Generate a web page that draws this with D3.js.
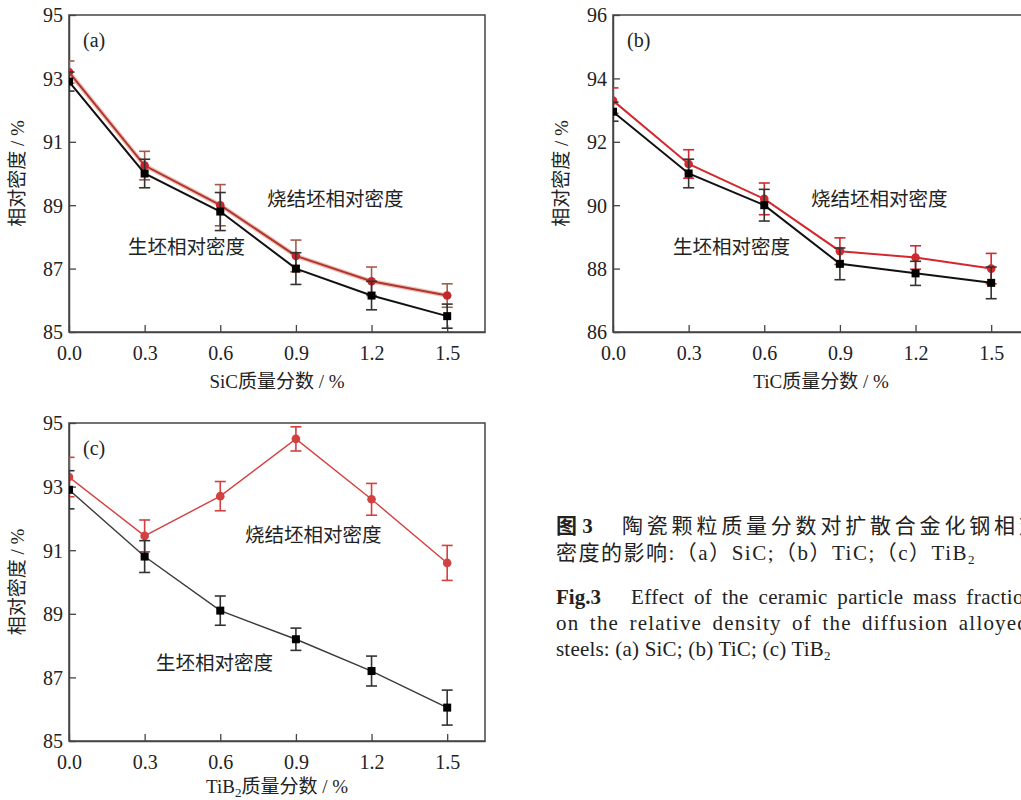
<!DOCTYPE html>
<html>
<head>
<meta charset="utf-8">
<script src="https://cdn.jsdelivr.net/npm/d3@7"></script>
<style>
  html, body { margin: 0; padding: 0; background: #fff; overflow: hidden; }
  svg { display: block; }
  text { font-family: "Liberation Serif", "Noto Sans CJK SC", serif; fill: #222; }
  .cjk { font-family: "Liberation Serif", "Noto Sans CJK SC", sans-serif; }
</style>
</head>
<body>
<div class="chart"></div>
<script>
// mass fraction of ceramic particles, %
const fractions = [0, 0.3, 0.6, 0.9, 1.2, 1.5];
const xTicks = [0, 0.3, 0.6, 0.9, 1.2, 1.5];

// (a) SiC
const sicGreen = [92.9, 90.0, 88.8, 87.0, 86.15, 85.5];
const sicGreenErr = [0.3, 0.45, 0.6, 0.5, 0.45, 0.38];
const sicSintered = [93.2, 90.25, 89.0, 87.4, 86.6, 86.15];
const sicSinteredErr = [0.35, 0.45, 0.65, 0.5, 0.45, 0.37];

// (b) TiC
const ticGreen = [92.95, 91.0, 90.0, 88.15, 87.85, 87.55];
const ticGreenErr = [0.3, 0.45, 0.5, 0.5, 0.38, 0.5];
const ticSintered = [93.3, 91.3, 90.2, 88.55, 88.35, 88.0];
const ticSinteredErr = [0.4, 0.45, 0.5, 0.42, 0.37, 0.48];

// (c) TiB2
const tib2Green = [92.9, 90.8, 89.1, 88.2, 87.2, 86.05];
const tib2GreenErr = [0.6, 0.5, 0.46, 0.35, 0.47, 0.55];
const tib2Sintered = [93.3, 91.45, 92.7, 94.5, 92.6, 90.6];
const tib2SinteredErr = [0.62, 0.5, 0.46, 0.38, 0.5, 0.55];

const greenLabel = '生坯相对密度';
const sinteredLabel = '烧结坯相对密度';
const yTitle = '相对密度 / %';

const svg = d3.select('.chart')
  .append('svg')
  .attr('width', 1021)
  .attr('height', 800);

const panels = [
  {
    id: 'a', tag: '(a)', left: 69, top: 15, w: 416, h: 317, titleDy: 56,
    yDomain: [85, 95], xTitle: ['SiC质量分数 / %'],
    green: sicGreen, greenErr: sicGreenErr, sintered: sicSintered, sinteredErr: sicSinteredErr,
    red: '#b0362c', redBar: '#a65a4e', redHalo: '#ecc2ba', black: '#111', blackBar: '#333', lw: 2,
    sinteredPos: [267, 206], greenPos: [128, 254]
  },
  {
    id: 'b', tag: '(b)', left: 613, top: 15, w: 416, h: 317, titleDy: 56,
    yDomain: [86, 96], xTitle: ['TiC质量分数 / %'],
    green: ticGreen, greenErr: ticGreenErr, sintered: ticSintered, sinteredErr: ticSinteredErr,
    red: '#d3282d', redBar: '#d3282d', redHalo: null, black: '#111', blackBar: '#333', lw: 2,
    sinteredPos: [811, 206], greenPos: [673, 254]
  },
  {
    id: 'c', tag: '(c)', left: 69, top: 423, w: 416, h: 318, titleDy: 52,
    yDomain: [85, 95], xTitle: ['TiB', '2', '质量分数 / %'],
    green: tib2Green, greenErr: tib2GreenErr, sintered: tib2Sintered, sinteredErr: tib2SinteredErr,
    red: '#d2403f', redBar: '#d2403f', redHalo: null, black: '#3a3a3a', blackBar: '#333', lw: 1.4,
    sinteredPos: [245, 542], greenPos: [156, 670]
  }
];

panels.forEach(p => drawPanel(p));

function drawPanel(p) {
  const g = svg.append('g').attr('transform', `translate(${p.left}, ${p.top})`);

  const xScale = d3.scaleLinear().domain([0, 1.65]).range([0, p.w]);
  const yScale = d3.scaleLinear().domain(p.yDomain).range([p.h, 0]);
  const yTicks = d3.range(p.yDomain[0], p.yDomain[1] + 1, 2);

  g.append('clipPath').attr('id', 'clip-' + p.id)
    .append('rect').attr('width', p.w).attr('height', p.h);

  // frame
  g.append('rect')
    .attr('width', p.w).attr('height', p.h)
    .attr('fill', 'none').attr('stroke', '#444').attr('stroke-width', 1.5);

  const xAxis = g.append('g')
    .attr('transform', `translate(0, ${p.h})`)
    .call(d3.axisBottom(xScale).tickValues(xTicks).tickFormat(d3.format('.1f'))
      .tickSizeInner(-7).tickSizeOuter(0).tickPadding(14));
  const yAxis = g.append('g')
    .call(d3.axisLeft(yScale).tickValues(yTicks).tickFormat(d3.format('d'))
      .tickSizeInner(-7).tickSizeOuter(0).tickPadding(6));

  [xAxis, yAxis].forEach(ax => {
    ax.select('.domain').attr('stroke', '#444').attr('stroke-width', 1.5);
    ax.selectAll('.tick line').attr('stroke', '#444').attr('stroke-width', 1.3);
    ax.selectAll('.tick text')
      .attr('fill', '#222')
      .style('font-family', '"Liberation Serif", serif')
      .style('font-size', '20px');
  });
  yAxis.selectAll('.tick text').attr('dy', '0.34em');

  // axis titles
  const xt = g.append('text')
    .attr('class', 'cjk')
    .attr('x', p.w / 2).attr('y', p.h + p.titleDy)
    .attr('text-anchor', 'middle')
    .style('font-size', '19px');
  if (p.xTitle.length === 1) {
    xt.text(p.xTitle[0]);
  } else {
    xt.append('tspan').text(p.xTitle[0]);
    xt.append('tspan').attr('dy', 4).style('font-size', '13px').text(p.xTitle[1]);
    xt.append('tspan').attr('dy', -4).text(p.xTitle[2]);
  }

  g.append('text')
    .attr('class', 'cjk')
    .attr('transform', `translate(-45, ${p.h / 2}) rotate(-90)`)
    .attr('text-anchor', 'middle')
    .style('font-size', '19px')
    .text(yTitle);

  g.append('text')
    .attr('x', 14).attr('y', 32)
    .style('font-size', '20px')
    .text(p.tag);

  const plot = g.append('g').attr('clip-path', `url(#clip-${p.id})`);

  const series = [
    {vals: p.sintered, errs: p.sinteredErr, color: p.red, bar: p.redBar, halo: p.redHalo, shape: 'circle'},
    {vals: p.green, errs: p.greenErr, color: p.black, bar: p.blackBar, halo: null, shape: 'square'}
  ];

  series.forEach(s => {
    const pts = fractions.map((x, i) => ({x: x, y: s.vals[i], e: s.errs[i]}));
    const line = d3.line().x(d => xScale(d.x)).y(d => yScale(d.y));

    if (s.halo) {
      plot.append('path')
        .attr('d', line(pts))
        .attr('fill', 'none')
        .attr('stroke', s.halo)
        .attr('stroke-width', p.lw + 2.5);
    }
    plot.append('path')
      .attr('d', line(pts))
      .attr('fill', 'none')
      .attr('stroke', s.color)
      .attr('stroke-width', p.lw);

    // error bars
    const eb = plot.selectAll(null).data(pts).enter().append('g')
      .attr('stroke', s.bar).attr('stroke-width', 1.6).attr('fill', 'none');
    eb.append('line')
      .attr('x1', d => xScale(d.x)).attr('x2', d => xScale(d.x))
      .attr('y1', d => yScale(d.y - d.e)).attr('y2', d => yScale(d.y + d.e));
    eb.append('line')
      .attr('x1', d => xScale(d.x) - 5.5).attr('x2', d => xScale(d.x) + 5.5)
      .attr('y1', d => yScale(d.y + d.e)).attr('y2', d => yScale(d.y + d.e));
    eb.append('line')
      .attr('x1', d => xScale(d.x) - 5.5).attr('x2', d => xScale(d.x) + 5.5)
      .attr('y1', d => yScale(d.y - d.e)).attr('y2', d => yScale(d.y - d.e));

    if (s.shape === 'circle') {
      plot.selectAll(null).data(pts).enter().append('circle')
        .attr('cx', d => xScale(d.x)).attr('cy', d => yScale(d.y))
        .attr('r', 4.3)
        .attr('fill', p.id === 'a' ? '#c3262b' : s.color);
    } else {
      plot.selectAll(null).data(pts).enter().append('rect')
        .attr('x', d => xScale(d.x) - 4).attr('y', d => yScale(d.y) - 4)
        .attr('width', 8).attr('height', 8)
        .attr('fill', '#000');
    }
  });

  // curve labels
  svg.append('text').attr('class', 'cjk')
    .attr('x', p.sinteredPos[0]).attr('y', p.sinteredPos[1])
    .style('font-size', '19.5px').attr('fill', '#333')
    .text(sinteredLabel);
  svg.append('text').attr('class', 'cjk')
    .attr('x', p.greenPos[0]).attr('y', p.greenPos[1])
    .style('font-size', '19.5px').attr('fill', '#333')
    .text(greenLabel);
}

// figure caption
const cap = svg.append('g');
const l1 = cap.append('text').attr('class', 'cjk').attr('x', 556).attr('y', 533).style('font-size', '21px');
l1.append('tspan').style('font-weight', 'bold').text('图 3');
l1.append('tspan').attr('x', 622).attr('letter-spacing', '3.8px').text('陶瓷颗粒质量分数对扩散合金化钢相对');

const l2 = cap.append('text').attr('class', 'cjk').attr('x', 556).attr('y', 560)
  .style('font-size', '21px').attr('letter-spacing', '1.5px');
l2.append('tspan').text('密度的影响:（a）SiC;（b）TiC;（c）TiB');
l2.append('tspan').attr('dy', 4).style('font-size', '13px').text('2');

const l3 = cap.append('text').attr('x', 556).attr('y', 604).style('font-size', '21px');
l3.append('tspan').style('font-weight', 'bold').text('Fig.3');
l3.append('tspan').attr('x', 631).attr('word-spacing', '4px').attr('letter-spacing', '0.4px')
  .text('Effect of the ceramic particle mass fraction');

cap.append('text').attr('x', 556).attr('y', 630).style('font-size', '21px')
  .attr('word-spacing', '4px').attr('letter-spacing', '1.2px')
  .text('on the relative density of the diffusion alloyed');

const l5 = cap.append('text').attr('x', 556).attr('y', 656).style('font-size', '21px')
  .attr('letter-spacing', '0.2px');
l5.append('tspan').text('steels: (a) SiC; (b) TiC; (c) TiB');
l5.append('tspan').attr('dy', 4).style('font-size', '13px').text('2');
</script>
</body>
</html>
